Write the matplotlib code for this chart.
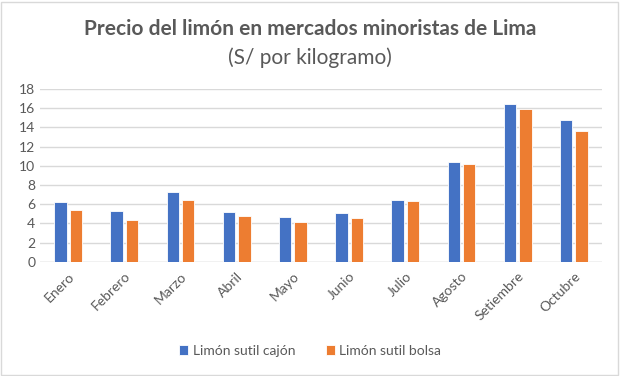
import numpy as np
import matplotlib.pyplot as plt
from matplotlib.patches import Rectangle

meses = ["Enero", "Febrero", "Marzo", "Abril", "Mayo", "Junio", "Julio",
         "Agosto", "Setiembre", "Octubre"]
cajon = [6.25, 5.28, 7.22, 5.17, 4.65, 5.03, 6.46, 10.35, 16.46, 14.79]
bolsa = [5.42, 4.31, 6.42, 4.76, 4.10, 4.55, 6.28, 10.17, 15.90, 13.58]

plt.rcParams["font.family"] = ["Lato", "DejaVu Sans"]
gris = "#595959"

fig = plt.figure(figsize=(6.2, 3.76), dpi=100)
ax = fig.add_axes([0.0645, 0.304, 0.9065, 0.459])

x = np.arange(len(meses))
w = 0.22
ax.bar(x - 0.137, cajon, w, color="#4472C4", edgecolor="white", linewidth=0.6,
       label="Limón sutil cajón", zorder=3)
ax.bar(x + 0.137, bolsa, w, color="#ED7D31", edgecolor="white", linewidth=0.6,
       label="Limón sutil bolsa", zorder=3)

ax.set_xlim(-0.5, len(meses) - 0.5)
ax.set_ylim(0, 18)
ax.set_yticks(range(0, 19, 2))
ax.set_xticks(x)
ax.set_xticklabels(meses, rotation=45, ha="right", rotation_mode="anchor")
ax.tick_params(axis="both", colors=gris, labelsize=10, length=0)
ax.tick_params(axis="x", pad=6)
ax.grid(axis="y", color="#d9d9d9", linewidth=1, zorder=0)
for s in ax.spines.values():
    s.set_visible(False)
ax.axhline(0, color="#d9d9d9", linewidth=1, zorder=2)

fig.text(0.5, 0.922, "Precio del limón en mercados minoristas de Lima",
         ha="center", va="center", fontsize=15, fontweight="bold", color=gris)
fig.text(0.5, 0.846, "(S/ por kilogramo)", ha="center", va="center",
         fontsize=15, color=gris)

ax.legend(loc="center", ncol=2, frameon=False, fontsize=10, labelcolor=gris,
          handlelength=0.7, handleheight=0.7, columnspacing=2.2, handletextpad=0.3)
leg = ax.get_legend()
leg.set_bbox_to_anchor((0.5, 1 - 351 / 376), transform=fig.transFigure)

fig.patches.append(Rectangle((0.002, 0.003), 0.995, 0.993, transform=fig.transFigure,
                             fill=False, edgecolor="#d9d9d9", linewidth=1))

fig.savefig("out.png", dpi=100)
